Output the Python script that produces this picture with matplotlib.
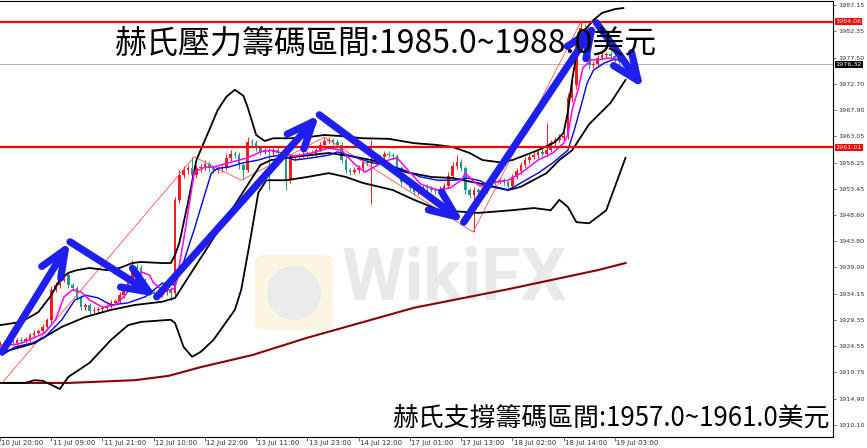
import matplotlib
matplotlib.use('Agg')
import matplotlib.pyplot as plt
import matplotlib.transforms as mtransforms
from matplotlib.patches import FancyBboxPatch, Ellipse
import numpy as np

# hourly XAUUSD candles, one per bar (bar index = x)
first_open = 1924.8
closes = [1925.1, 1924.9, 1925.3, 1925.1, 1925.7, 1925.5, 1925.9, 1926.6, 1927.0, 1927.3,
          1928.1, 1929.4, 1934.9, 1935.8, 1936.7, 1937.6, 1935.8, 1935.2, 1933.4, 1931.7,
          1932.1, 1931.0, 1931.2, 1931.4, 1931.6, 1931.9, 1932.5, 1932.8, 1933.9, 1935.2,
          1936.7, 1939.1, 1938.9, 1936.7, 1934.9, 1934.5, 1934.1, 1933.9, 1934.5, 1935.0,
          1934.3, 1951.4, 1956.0, 1956.9, 1957.2, 1956.0, 1957.2, 1957.4, 1958.0, 1957.2,
          1956.9, 1957.0, 1957.2, 1959.1, 1959.8, 1959.6, 1957.8, 1956.9, 1962.0, 1961.8,
          1960.9, 1960.2, 1960.5, 1960.2, 1960.5, 1960.0, 1959.6, 1955.0, 1959.1, 1959.4,
          1959.6, 1959.8, 1960.0, 1959.8, 1960.5, 1961.5, 1962.2, 1962.4, 1962.0, 1961.5,
          1958.7, 1956.9, 1956.5, 1956.9, 1957.2, 1958.3, 1958.2, 1958.5, 1959.1, 1959.3,
          1959.8, 1959.6, 1959.4, 1957.2, 1954.7, 1954.9, 1953.6, 1952.8, 1953.4, 1953.8,
          1953.6, 1953.2, 1953.0, 1953.4, 1953.9, 1955.8, 1957.6, 1958.3, 1957.2, 1953.2,
          1952.3, 1953.2, 1952.8, 1953.2, 1954.5, 1954.9, 1954.7, 1955.0, 1954.7, 1953.9,
          1955.6, 1956.7, 1957.8, 1958.7, 1959.3, 1959.6, 1960.2, 1959.8, 1960.5, 1961.8,
          1962.4, 1962.8, 1963.1, 1970.1, 1972.5, 1979.8, 1982.9, 1978.0, 1976.1, 1976.3,
          1977.4, 1978.0, 1978.2, 1977.8, 1977.2, 1976.7, 1976.3]

wick_up = [0.4, 0.3, 0.5, 0.4, 0.3, 0.5, 0.4, 0.3, 0.5, 0.4,
           0.5, 0.4, 0.6, 0.5, 0.4, 0.9, 0.5, 0.4, 0.3, 0.5,
           0.4, 0.3, 0.5, 0.4, 0.3, 0.4, 0.5, 0.4, 0.5, 0.6,
           0.5, 1.3, 0.6, 0.5, 0.4, 0.3, 0.4, 0.5, 0.4, 0.5,
           0.4, 0.6, 0.8, 0.7, 0.6, 2.1, 0.6, 0.5, 0.7, 0.5,
           0.4, 0.5, 0.6, 0.7, 0.8, 0.6, 0.5, 0.4, 0.9, 0.6,
           0.5, 0.4, 0.6, 0.5, 0.4, 0.6, 0.5, 0.4, 0.6, 0.5,
           0.4, 0.5, 0.4, 0.6, 0.5, 0.6, 0.7, 0.5, 0.4, 0.5,
           0.6, 0.5, 0.4, 0.5, 0.6, 0.5, 0.4, 3.9, 0.5, 0.4,
           0.5, 0.6, 0.4, 0.5, 0.4, 0.6, 0.5, 0.4, 0.5, 0.4,
           0.5, 0.4, 0.3, 0.5, 0.6, 0.7, 0.8, 1.3, 0.6, 0.5,
           0.4, 0.5, 0.4, 0.5, 0.6, 0.4, 0.5, 0.4, 0.5, 0.4,
           0.6, 0.5, 0.6, 0.5, 0.6, 0.5, 0.6, 0.5, 5.0, 0.6,
           0.5, 0.6, 0.7, 0.9, 1.0, 1.2, 1.1, 0.7, 0.6, 0.5,
           0.6, 0.5, 0.4, 0.5, 0.4, 0.5, 0.4]
wick_dn = [0.4, 0.5, 0.3, 0.4, 0.5, 0.3, 0.4, 0.5, 0.4, 0.3,
           0.4, 0.5, 0.6, 0.4, 0.5, 0.4, 0.6, 0.5, 0.4, 0.5,
           0.5, 0.6, 0.4, 0.5, 0.4, 0.5, 0.4, 0.3, 0.4, 0.5,
           0.4, 0.5, 0.6, 0.5, 0.4, 0.5, 0.6, 0.5, 0.4, 0.5,
           1.3, 0.5, 0.6, 0.5, 0.7, 0.6, 0.5, 0.6, 0.5, 0.6,
           0.5, 0.6, 0.5, 0.4, 0.5, 0.6, 0.7, 1.9, 0.4, 0.5,
           0.6, 0.5, 0.4, 7.0, 0.5, 0.4, 0.5, 1.8, 0.5, 0.4,
           0.5, 0.4, 0.5, 0.4, 0.5, 0.4, 0.5, 0.4, 0.5, 0.6,
           0.5, 0.6, 0.5, 0.4, 0.5, 0.6, 0.5, 7.5, 0.5, 0.4,
           0.5, 0.4, 0.5, 0.6, 0.5, 0.4, 0.5, 0.6, 0.5, 0.4,
           0.5, 0.4, 0.5, 0.4, 0.5, 0.4, 0.5, 0.6, 0.5, 0.7,
           0.6, 6.8, 0.5, 0.4, 0.5, 0.4, 0.5, 0.4, 0.5, 0.6,
           0.5, 0.4, 0.5, 0.4, 0.5, 0.4, 0.5, 0.4, 0.5, 0.4,
           0.5, 0.4, 0.5, 0.6, 0.8, 0.7, 0.6, 0.8, 0.7, 0.5,
           0.5, 0.4, 0.5, 0.4, 0.5, 0.6, 0.5]

# Bollinger bands (read at knots)
up_bars = [0, 5, 9, 12, 14, 16, 18, 21, 25, 28, 31, 33, 38, 40, 41, 42, 44, 46, 49, 51,
           53, 55, 57, 58, 60, 62, 64, 68, 72, 76, 80, 85, 91, 94, 97, 102, 106, 110, 113, 117,
           120, 122, 126, 130, 132, 133, 134, 135, 136, 137, 139, 141, 144, 146]
up_vals = [1928.4, 1929.0, 1930.8, 1933.9, 1936.7, 1938.0, 1938.5, 1938.9, 1938.5, 1938.9,
           1939.8, 1940.0, 1939.8, 1939.8, 1941.3, 1943.5, 1950.8, 1958.7, 1964.2, 1967.9,
           1970.3, 1971.6, 1970.5, 1968.4, 1963.3, 1962.2, 1962.7, 1962.7, 1962.9, 1963.3,
           1963.1, 1962.7, 1962.6, 1962.2, 1961.8, 1961.5, 1961.1, 1960.0, 1958.7, 1958.3,
           1958.7, 1959.3, 1960.5, 1962.0, 1963.7, 1967.5, 1973.4, 1978.0, 1980.7, 1982.6,
           1984.4, 1985.7, 1986.4, 1986.6]
mid_bars = [0, 8, 14.5, 20, 26, 31.5, 38, 41, 61, 63.5, 69, 77, 83, 87, 95, 101, 106, 113, 119, 122,
            128, 131, 134, 138, 143, 146.5]
mid_vals = [1923.3, 1925.1, 1928.1, 1929.9, 1931.2, 1932.1, 1932.7, 1933.4, 1957.8, 1958.7,
            1959.3, 1960.0, 1959.3, 1958.7, 1956.5, 1955.6, 1955.4, 1954.3, 1953.2, 1953.8,
            1956.3, 1958.7, 1960.5, 1965.3, 1969.2, 1973.4]
lo_bars = [0, 6, 8, 10, 14, 16, 21, 26, 30, 33, 40, 41, 43, 45, 47, 50, 53, 55, 56.5, 58.4,
           60.5, 62.4, 67, 72, 77, 81, 85, 92, 97, 103, 112, 120, 125, 129, 131, 133, 135, 138, 142, 146.5]
lo_vals = [1917.8, 1917.8, 1918.3, 1918.2, 1916.7, 1918.9, 1921.5, 1925.7, 1928.4, 1929.0,
           1929.4, 1928.8, 1924.4, 1922.6, 1923.5, 1925.7, 1929.0, 1931.2, 1934.9, 1943.1,
           1952.7, 1955.0, 1955.0, 1955.6, 1956.3, 1955.6, 1954.5, 1953.2, 1951.4, 1949.5,
           1949.0, 1949.5, 1949.9, 1949.5, 1951.4, 1950.1, 1947.3, 1947.1, 1949.5, 1959.1]

# fast (magenta) and slow (blue) moving averages
mag_bars = [0.5, 3, 5, 8, 10.5, 13, 15, 17, 19, 21, 24, 27, 29, 31.5, 33, 35, 36, 38, 40, 41,
            42, 43, 44.5, 45.5, 48, 50, 53.5, 56, 58, 61, 63.5, 66, 69, 73, 77, 80, 83, 85.5, 87.5, 91,
            93, 95.5, 98.5, 102.5, 105.5, 108, 109, 111, 112.5, 115, 119, 122, 126, 129.5, 132, 133, 134, 135.5,
            136.5, 138.5, 140, 142.5, 146]
mag_vals = [1924.8, 1924.8, 1925.1, 1926.1, 1927.0, 1929.4, 1933.6, 1934.9, 1934.5, 1933.0,
            1931.7, 1932.1, 1933.6, 1936.1, 1938.2, 1937.6, 1936.1, 1934.9, 1934.9, 1935.2,
            1939.4, 1944.0, 1951.4, 1956.5, 1957.4, 1957.4, 1958.2, 1958.7, 1959.1, 1960.2,
            1960.5, 1960.0, 1959.4, 1960.0, 1960.9, 1960.5, 1958.0, 1956.5, 1957.4, 1958.7,
            1959.1, 1956.9, 1954.3, 1953.2, 1953.6, 1955.0, 1956.3, 1954.7, 1953.9, 1954.5,
            1955.0, 1956.3, 1958.7, 1960.0, 1961.8, 1963.3, 1967.9, 1971.9, 1975.6, 1977.1,
            1977.1, 1977.4, 1977.1]
blu_bars = [0.5, 3.5, 7.5, 10.5, 14.5, 17.5, 20, 23, 26, 30, 34, 38, 41, 43, 45.5, 48, 49.5, 51,
            53.5, 57, 60.5, 63, 66, 69, 73, 77, 79, 83, 87, 91, 94.5, 98.5, 102.5, 106.5, 109.5,
            112.5, 115, 119, 122, 126, 129.5, 133, 134.5, 136, 137.5, 139, 141.5, 143.5, 145.5]
blu_vals = [1922.9, 1924.4, 1925.1, 1926.2, 1929.4, 1933.0, 1933.9, 1933.4, 1932.1, 1932.5,
            1933.6, 1936.1, 1935.8, 1940.0, 1946.0, 1952.5, 1956.3, 1957.2,
            1957.4, 1958.2, 1958.7, 1959.3, 1959.6, 1958.7, 1959.1, 1959.6, 1960.2, 1959.3,
            1958.2, 1957.8, 1956.9, 1955.6, 1955.0, 1955.0, 1955.4,
            1954.9, 1953.8, 1953.2, 1954.5, 1956.3, 1958.2, 1960.5, 1964.2, 1968.4, 1972.8,
            1975.2, 1976.5, 1977.1, 1977.1]
ma200_bars = [0.5, 16, 31.5, 39.5, 47, 59, 72, 97, 119, 140, 146.5]
ma200_vals = [1917.8, 1917.8, 1918.3, 1919.1, 1920.7, 1922.9, 1926.1, 1931.6, 1935.0, 1938.5, 1939.8]

zz_bars = [0.5, 45.5, 56.5, 76, 110.8, 136]
zz_vals = [1917.8, 1959.3, 1955.0, 1962.9, 1945.5, 1984.0]

# hand drawn arrows
arrow_bars = [0.5, 16.4, 36.7, 74.8, 108.6, 139.7, 150.7]
arrow_vals = [1923.5, 1943.7, 1933.6, 1967.0, 1947.3, 1983.9, 1971.9]

resist = 1984.08
support = 1961.01
bid = 1976.32

ytick_vals = [1987.15, 1982.35, 1977.50, 1972.70, 1967.90, 1963.05, 1958.25, 1953.45, 1948.60,
              1943.80, 1939.00, 1934.15, 1929.35, 1924.55, 1919.75, 1914.90, 1910.10]
tick_bars = [0, 12, 24, 36, 48, 60, 72, 84, 96, 108, 120, 132, 144]
tick_labels = ['10 Jul 20:00', '11 Jul 09:00', '11 Jul 21:00', '12 Jul 10:00', '12 Jul 22:00',
               '13 Jul 11:00', '13 Jul 23:00', '14 Jul 12:00', '17 Jul 01:00', '17 Jul 13:00',
               '18 Jul 02:00', '18 Jul 14:00', '19 Jul 03:00']

top_text = '赫氏壓力籌碼區間:1985.0~1988.0美元'
bottom_text = '赫氏支撐籌碼區間:1957.0~1961.0美元'
cjk = ['Noto Sans CJK TC', 'DejaVu Sans']

fig = plt.figure(figsize=(8.67, 4.48), dpi=100)
ax = fig.add_axes([0, 11/448, 833/867, 436/448])
ax.set_xlim(0.47, 195.1)
ax.set_ylim(1907.88, 1987.89)

# watermark
ax.add_patch(FancyBboxPatch((255/867, 118/448), 78/867, 75/448,
                            boxstyle='round,pad=0,rounding_size=0.012',
                            transform=fig.transFigure, fc='#fbf5e2', ec='none', zorder=0.5))
ax.add_patch(Ellipse((294/867, 155/448), 54/867, 54/448, transform=fig.transFigure,
                     fc='#ebebeb', ec='none', zorder=0.6))
ax.text(455/867, 168/448, 'WikiFX', transform=fig.transFigure, fontsize=52,
        family='Roboto', fontweight='bold', color='#e9e9e9', ha='center', va='center', zorder=0.6)

# candles
c = np.array(closes)
o = np.array([first_open] + closes[:-1])
x = np.arange(len(c))
hi = np.maximum(o, c) + np.array(wick_up)
lo = np.minimum(o, c) - np.array(wick_dn)
cols = np.where(c >= o, '#ff1a1a', '#23998a')
ax.vlines(x, lo, hi, colors=cols, lw=0.7, zorder=2)
ax.bar(x, np.maximum(np.abs(c - o), 0.15), bottom=np.minimum(o, c), width=0.62,
       color=cols, linewidth=0, zorder=2)

# indicators
ax.plot(ma200_bars, ma200_vals, color='#8b0000', lw=1.5, zorder=3)
ax.plot(zz_bars, zz_vals, color='#ff5050', lw=0.6, zorder=3)
for bb, vv in [(up_bars, up_vals), (mid_bars, mid_vals), (lo_bars, lo_vals)]:
    ax.plot(bb, vv, color='black', lw=1.3, zorder=3)
ax.plot(blu_bars, blu_vals, color='#0000ee', lw=1.0, zorder=3.2)
ax.plot(mag_bars, mag_vals, color='#ff00ff', lw=1.1, zorder=3.3)

ax.axhline(resist, color='#ff0000', lw=1.6, zorder=3.5)
ax.axhline(support, color='#ff0000', lw=1.6, zorder=3.5)
ax.axhline(bid, color='#b4b4b4', lw=0.7, zorder=1.5)

# arrows
for i in range(len(arrow_bars) - 1):
    ax.annotate('', xy=(arrow_bars[i + 1], arrow_vals[i + 1]), xytext=(arrow_bars[i], arrow_vals[i]),
                arrowprops=dict(arrowstyle='->,head_length=1.9,head_width=0.8', lw=5.2,
                                color='#1e1ef0', shrinkA=0, shrinkB=0, capstyle='round'),
                zorder=5, annotation_clip=False)

# texts
ax.text(386/867, 404/448, top_text, transform=fig.transFigure, fontsize=23, family=cjk,
        ha='center', va='center', zorder=6)
ax.text(611/867, 30/448, bottom_text, transform=fig.transFigure, fontsize=18.6, family=cjk,
        ha='center', va='center', zorder=6)

# axes styling
ax.yaxis.tick_right()
ax.set_yticks(ytick_vals)
ax.set_yticklabels([f'{v:.2f}' for v in ytick_vals], fontsize=4.6, color='#333333')
ax.tick_params(axis='y', length=2.5, width=0.6, pad=1.5, color='#555555')
ax.set_xticks(tick_bars)
ax.set_xticklabels([])
ax.tick_params(axis='x', length=3, width=0.6, color='#555555')
xt = ax.get_xaxis_transform()
for b, lab in zip(tick_bars, tick_labels):
    ax.text(b + 0.3, -0.006, lab, transform=xt, fontsize=5, color='#333333',
            ha='left', va='top', clip_on=False)
ax.spines['left'].set_visible(False)
for s in ['right', 'bottom', 'top']:
    ax.spines[s].set_linewidth(0.8)

yt = mtransforms.blended_transform_factory(ax.transAxes, ax.transData)
for val, fc in [(resist, '#ff0000'), (support, '#ff0000'), (bid, '#000000')]:
    ax.text(1.003, val, f'{val:.2f}', transform=yt, fontsize=4.6, color='white', ha='left', va='center',
            bbox=dict(boxstyle='square,pad=0.15', fc=fc, ec='none'), clip_on=False, zorder=7)

fig.savefig('out.png', dpi=100)
